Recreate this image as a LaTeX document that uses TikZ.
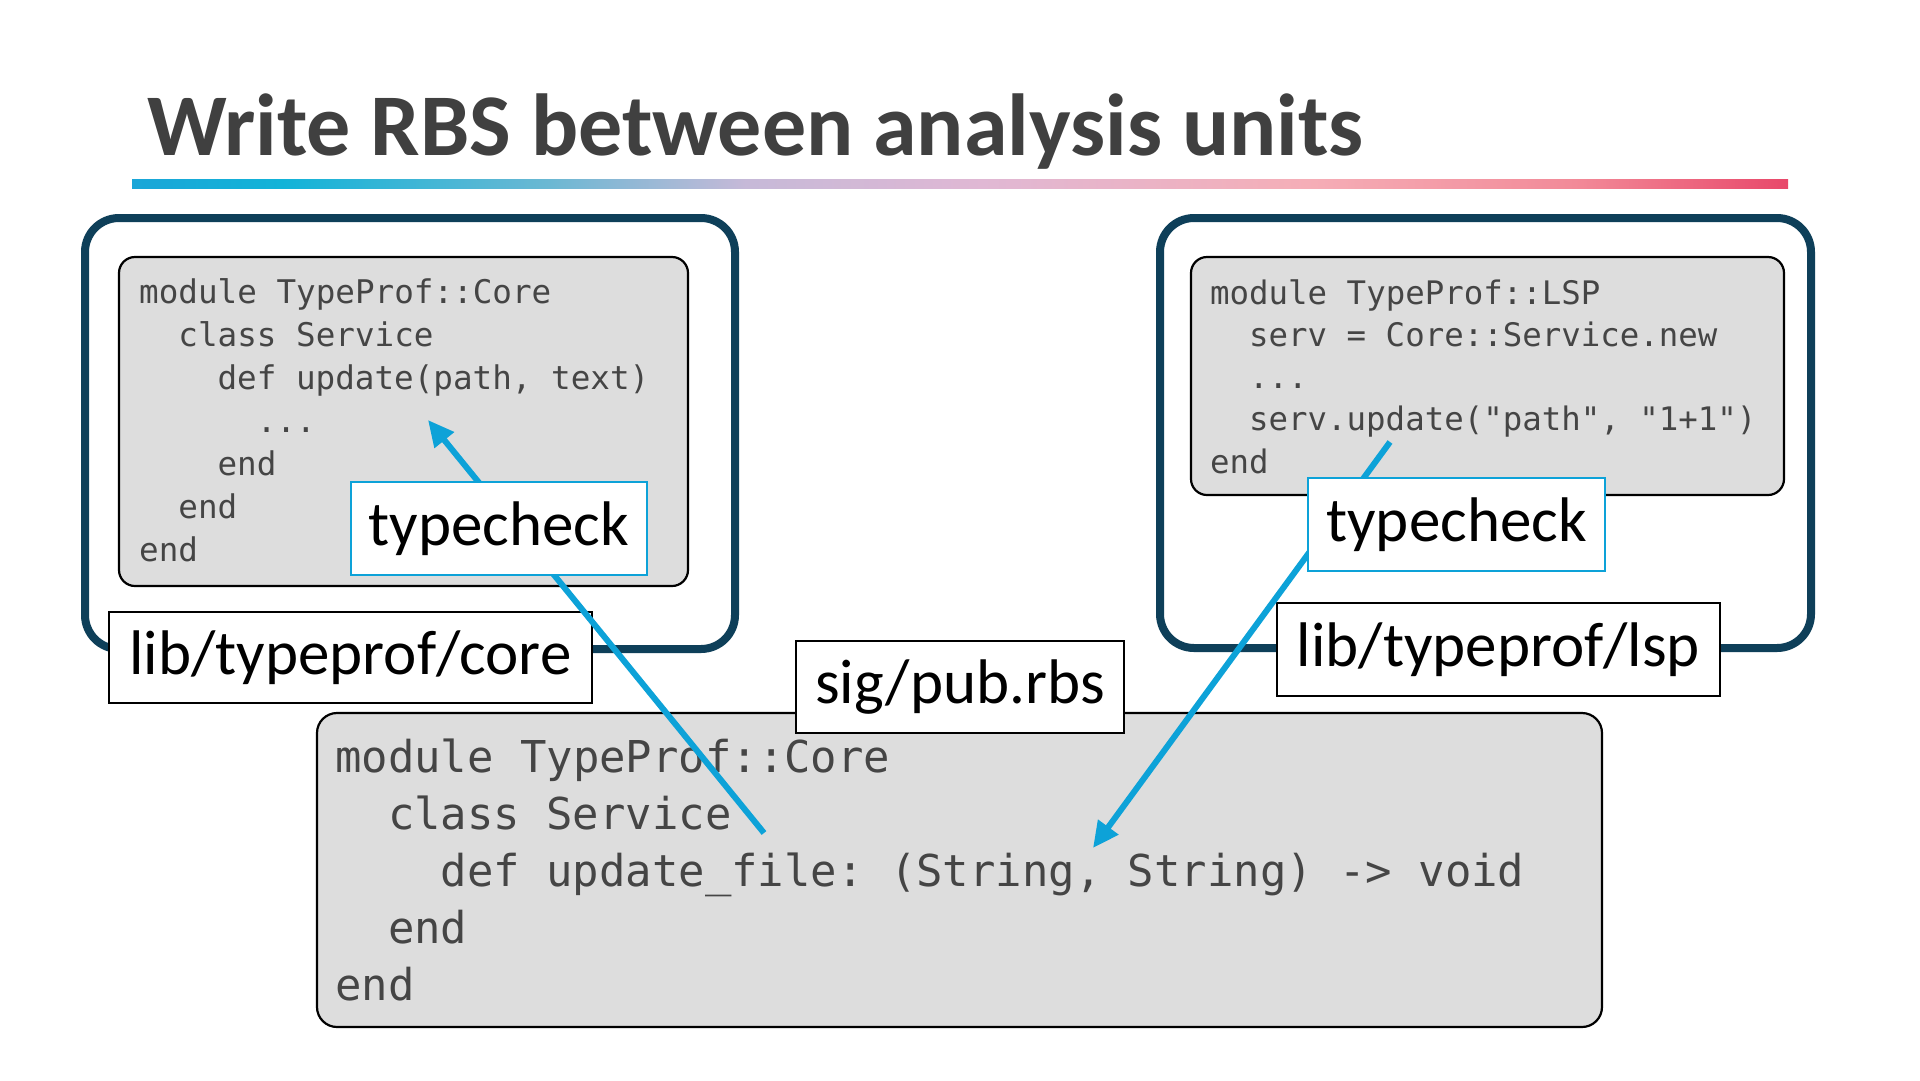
\documentclass[tikz,border=0pt]{standalone}
\usepackage{fontspec}
\setmainfont{Carlito}
\setmonofont{DejaVu Sans Mono}
\usetikzlibrary{arrows.meta}
\definecolor{frame}{HTML}{0E3F59}
\definecolor{codebg}{HTML}{DDDDDD}
\definecolor{codefg}{HTML}{454545}
\definecolor{link}{HTML}{0DA2D8}
\definecolor{titlefg}{HTML}{404040}
\definecolor{ga}{HTML}{1AA6D8}
\definecolor{gb}{HTML}{12B3D8}
\definecolor{gc}{HTML}{6CB8D3}
\definecolor{gd}{HTML}{C6B9D8}
\definecolor{ge}{HTML}{E0B8D4}
\definecolor{gf}{HTML}{F5AEB7}
\definecolor{gg}{HTML}{F28A98}
\definecolor{gh}{HTML}{E8486A}
\tikzset{
  unitbox/.style={draw=frame, line width=8pt, rounded corners=34pt, fill=white, inner sep=0pt},
  codebox/.style={draw=black, line width=2.2pt, rounded corners=16pt, fill=codebg, inner sep=0pt},
  pathlabel/.style={draw=black, line width=2pt, fill=white, inner sep=0pt, font=\fontsize{63}{63}\selectfont, text=black},
  checklabel/.style={draw=link, line width=2.2pt, fill=white, inner sep=0pt, font=\fontsize{63}{63}\selectfont, text=black},
  codeS/.style={anchor=base west, inner sep=0pt, text=codefg, font=\ttfamily\fontsize{32.6}{32.6}\selectfont},
  codeR/.style={anchor=base west, inner sep=0pt, text=codefg, font=\ttfamily\fontsize{32.4}{32.4}\selectfont},
  codeL/.style={anchor=base west, inner sep=0pt, text=codefg, font=\ttfamily\fontsize{43.9}{43.9}\selectfont},
  linkline/.style={draw=link, line width=6pt},
  linkarrow/.style={linkline, -{Triangle[length=26pt,width=24pt]}}
}
\begin{document}
\begin{tikzpicture}[x=1pt,y=-1pt]
\fill[white] (0,0) rectangle (1920,1080);
\useasboundingbox (0,0) rectangle (1920,1080);

% title
\node[anchor=base west, inner sep=0pt, text=titlefg, font=\fontsize{88}{88}\selectfont\bfseries] (title) at (147,155) {Write RBS between analysis units};

% gradient rule
\foreach \xa/\xb/\ca/\cb in {132/282.5/ga/gb, 282/551.5/gb/gc, 551/745.5/gc/gd, 745/982.5/gd/ge, 982/1306.5/ge/gf, 1306/1575.5/gf/gg, 1575/1788/gg/gh}
  \shade[left color=\ca, right color=\cb] (\xa,179) rectangle (\xb,188);

% analysis units
\node[unitbox, minimum width=650pt, minimum height=431pt] (coreunit) at (410,433.5) {};
\node[unitbox, minimum width=651pt, minimum height=430pt] (lspunit) at (1485.5,433) {};

% code boxes
\node[codebox, minimum width=569pt, minimum height=329pt] (corecode) at (403.5,421.5) {};
\node[codebox, minimum width=593pt, minimum height=238pt] (lspcode) at (1487.5,376) {};

% left code
\node[codeS] (l1) at (139,303) {module TypeProf::Core};
\node[codeS] (l2) at (178.2,346.1) {class Service};
\node[codeS] (l3) at (217.4,389.2) {def update(path, text)};
\node[codeS] (l4) at (256.6,432.3) {...};
\node[codeS] (l5) at (217.4,475.4) {end};
\node[codeS] (l6) at (178.2,518.5) {end};
\node[codeS] (l7) at (139,561.6) {end};

% right code
\node[codeR] (r1) at (1210,304) {module TypeProf::LSP};
\node[codeR] (r2) at (1249,346.3) {serv = Core::Service.new};
\node[codeR] (r3) at (1249,388.6) {...};
\node[codeR] (r4) at (1249,430.9) {serv.update("path", "1+1")};
\node[codeR] (r5) at (1210,473.2) {end};

% path labels
\node[pathlabel, minimum width=483pt, minimum height=91pt] (corepath) at (350.5,657.5) {lib/typeprof/core};
\node[pathlabel, minimum width=443pt, minimum height=93pt] (lsppath) at (1498.5,649.5) {lib/typeprof/lsp};

% rbs box
\node[codebox, rounded corners=20pt, minimum width=1285pt, minimum height=314pt] (rbscode) at (959.5,870) {};
\node[codeL] (b1) at (335,772) {module TypeProf::Core};
\node[codeL] (b2) at (387.8,829) {class Service};
\node[codeL] (b3) at (440.6,886) {def update\_file: (String, String) -> void};
\node[codeL] (b4) at (387.8,943) {end};
\node[codeL] (b5) at (335,1000) {end};
\node[pathlabel, minimum width=328pt, minimum height=92pt] (sigpath) at (960,687) {sig/pub.rbs};

% links
\coordinate (srcL) at (764,833);
\coordinate (tipL) at (428,420);
\coordinate (srcR) at (1390,442);
\coordinate (tipR) at (1093,848);
\draw[linkarrow] (srcL) -- (tipL);
\draw[linkarrow] (srcR) -- (tipR);

% typecheck labels
\node[checklabel, minimum width=296pt, minimum height=93pt] (checkL) at (499,528.5) {typecheck};
\node[checklabel, minimum width=297pt, minimum height=93pt] (checkR) at (1456.5,524.5) {typecheck};
\end{tikzpicture}
\end{document}
